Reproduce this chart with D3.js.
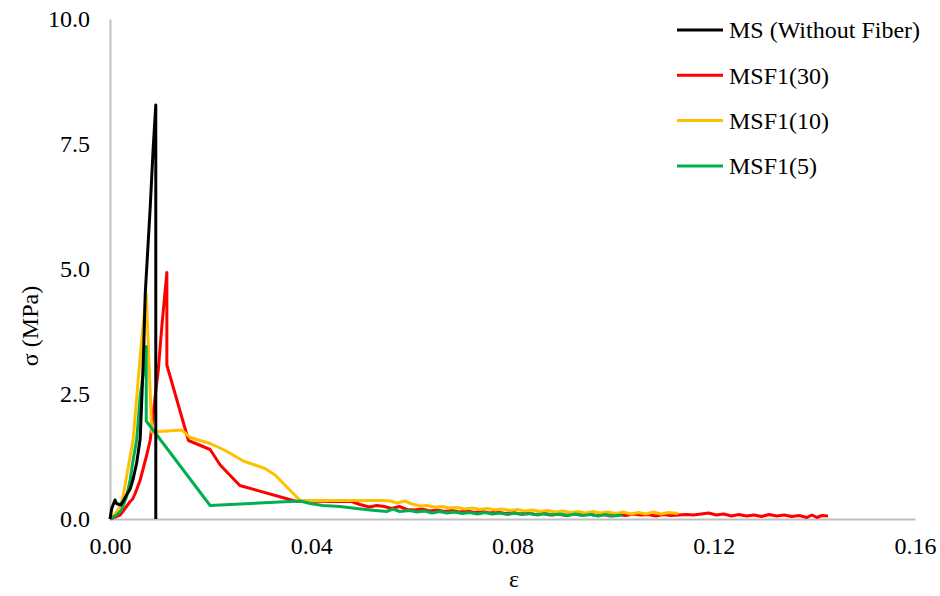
<!DOCTYPE html>
<html>
<head>
<meta charset="utf-8">
<script src="https://cdn.jsdelivr.net/npm/d3@7"></script>
<style>
  html, body { margin: 0; padding: 0; background: #fff; }
  svg { display: block; }
</style>
</head>
<body>
<svg id="chart" width="940" height="596"></svg>
<script>
// Stress–strain curves: [strain ε, stress σ (MPa)]
const msPoints = [
  [0, 0], [0.00034, 0.21], [0.0010, 0.38], [0.0013, 0.31], [0.0021, 0.28],
  [0.0026, 0.35], [0.0033, 0.48], [0.0040, 0.60], [0.0046, 0.80], [0.0053, 1.12],
  [0.0060, 1.60], [0.0064, 2.60], [0.0067, 3.40], [0.0070, 4.50], [0.0080, 6.25],
  [0.0086, 7.45], [0.0091, 8.28], [0.0091, 0]
];

const msf30Points = [
  [0, 0], [0.0020, 0.08], [0.0030, 0.21], [0.0040, 0.35], [0.0045, 0.40], [0.0050, 0.51],
  [0.0060, 0.78], [0.0066, 1.01], [0.0073, 1.28], [0.0080, 1.58], [0.0089, 2.38],
  [0.0096, 2.98], [0.0103, 3.85], [0.0113, 4.93], [0.0113, 3.08], [0.0156, 1.57],
  [0.0199, 1.39], [0.0219, 1.08], [0.0258, 0.67], [0.0371, 0.35], [0.0400, 0.36],
  [0.0440, 0.35], [0.0480, 0.35], [0.0497, 0.29], [0.0515, 0.24], [0.0530, 0.27],
  [0.0545, 0.25], [0.0560, 0.21], [0.0575, 0.25], [0.0590, 0.19], [0.0605, 0.18],
  [0.0620, 0.20], [0.0635, 0.16], [0.0650, 0.18], [0.0665, 0.15], [0.0680, 0.17],
  [0.0695, 0.14], [0.0710, 0.16], [0.0725, 0.13], [0.0740, 0.15], [0.0755, 0.12],
  [0.0770, 0.14], [0.0785, 0.11], [0.0800, 0.13], [0.0815, 0.10], [0.0830, 0.12],
  [0.0845, 0.09], [0.0860, 0.11], [0.0875, 0.08], [0.0890, 0.10], [0.0905, 0.07],
  [0.0920, 0.10], [0.0935, 0.08], [0.0950, 0.11], [0.0965, 0.07], [0.0980, 0.09],
  [0.0995, 0.06], [0.1010, 0.09], [0.1025, 0.07], [0.1040, 0.10], [0.1055, 0.08],
  [0.1070, 0.09], [0.1085, 0.06], [0.1100, 0.09], [0.1115, 0.07], [0.1130, 0.08],
  [0.1145, 0.09], [0.1160, 0.08], [0.1175, 0.10], [0.1190, 0.12], [0.1205, 0.08],
  [0.1220, 0.10], [0.1235, 0.06], [0.1250, 0.09], [0.1265, 0.06], [0.1280, 0.08],
  [0.1295, 0.05], [0.1310, 0.09], [0.1325, 0.06], [0.1340, 0.08], [0.1355, 0.05],
  [0.1370, 0.07], [0.1385, 0.03], [0.1395, 0.08], [0.1405, 0.03], [0.1415, 0.07],
  [0.1427, 0.06]
];

const msf10Points = [
  [0, 0], [0.0010, 0.10], [0.0020, 0.25], [0.0026, 0.45], [0.0033, 0.85], [0.0040, 1.25],
  [0.0046, 1.58], [0.0056, 2.78], [0.0063, 3.58], [0.0072, 4.51], [0.0083, 1.74],
  [0.0143, 1.78], [0.0159, 1.63], [0.0199, 1.51], [0.0229, 1.37], [0.0265, 1.16],
  [0.0308, 1.01], [0.0328, 0.88], [0.0378, 0.37], [0.0420, 0.37], [0.0460, 0.37],
  [0.0500, 0.37], [0.0540, 0.37], [0.0557, 0.36], [0.0570, 0.32], [0.0586, 0.36],
  [0.0600, 0.30], [0.0616, 0.26], [0.0630, 0.27], [0.0645, 0.24], [0.0660, 0.25],
  [0.0675, 0.22], [0.0690, 0.23], [0.0705, 0.20], [0.0720, 0.22], [0.0735, 0.19],
  [0.0750, 0.21], [0.0765, 0.18], [0.0780, 0.20], [0.0795, 0.17], [0.0810, 0.19],
  [0.0825, 0.16], [0.0840, 0.18], [0.0855, 0.15], [0.0870, 0.17], [0.0885, 0.14],
  [0.0900, 0.16], [0.0915, 0.13], [0.0930, 0.15], [0.0945, 0.12], [0.0960, 0.15],
  [0.0975, 0.12], [0.0990, 0.14], [0.1005, 0.11], [0.1020, 0.14], [0.1035, 0.10],
  [0.1050, 0.13], [0.1065, 0.10], [0.1080, 0.14], [0.1095, 0.10], [0.1110, 0.13],
  [0.1129, 0.11]
];

const msf5Points = [
  [0, 0], [0.0013, 0.08], [0.0023, 0.18], [0.0033, 0.45], [0.0040, 0.78], [0.0046, 1.18],
  [0.0053, 1.58], [0.0060, 2.45], [0.0068, 3.05], [0.0072, 3.45], [0.0072, 1.96],
  [0.0199, 0.27], [0.0378, 0.36], [0.0398, 0.31], [0.0423, 0.27], [0.0457, 0.25],
  [0.0490, 0.21], [0.0517, 0.18], [0.0550, 0.15], [0.0562, 0.20], [0.0576, 0.15],
  [0.0596, 0.17], [0.0610, 0.14], [0.0625, 0.16], [0.0640, 0.12], [0.0655, 0.15],
  [0.0670, 0.12], [0.0685, 0.14], [0.0700, 0.11], [0.0715, 0.13], [0.0730, 0.10],
  [0.0745, 0.13], [0.0760, 0.10], [0.0775, 0.12], [0.0790, 0.09], [0.0805, 0.12],
  [0.0820, 0.09], [0.0835, 0.11], [0.0850, 0.08], [0.0865, 0.11], [0.0880, 0.08],
  [0.0895, 0.10], [0.0910, 0.07], [0.0925, 0.10], [0.0940, 0.07], [0.0955, 0.09],
  [0.0970, 0.06], [0.0985, 0.09], [0.1000, 0.06], [0.1018, 0.08]
];

const seriesNames = ["MS (Without Fiber)", "MSF1(30)", "MSF1(10)", "MSF1(5)"];
const seriesColors = ["#000000", "#ff0000", "#ffc000", "#00b050"];
const seriesPoints = [msPoints, msf30Points, msf10Points, msf5Points];

const xTicks = [0, 0.04, 0.08, 0.12, 0.16];
const yTicks = [0, 2.5, 5, 7.5, 10];

const FONT = "'Liberation Serif', serif";
const FONT_SIZE = "24px";

const svg = d3.select("#chart");
const plot = { left: 110, right: 915, top: 19, bottom: 519 };

const x = d3.scaleLinear().domain([0, 0.16]).range([plot.left, plot.right]);
const y = d3.scaleLinear().domain([0, 10]).range([plot.bottom, plot.top]);

// Axes (no tick marks, light grey lines)
const xAxis = d3.axisBottom(x).tickValues(xTicks).tickFormat(d3.format(".2f")).tickSize(0).tickPadding(18);
const yAxis = d3.axisLeft(y).tickValues(yTicks).tickFormat(d3.format(".1f")).tickSize(0).tickPadding(20);

const gx = svg.append("g").attr("transform", `translate(0,${plot.bottom})`).call(xAxis);
const gy = svg.append("g").attr("transform", `translate(${plot.left},0)`).call(yAxis);

[gx, gy].forEach(g => {
  g.select(".domain").attr("stroke", "#bfbfbf").attr("stroke-width", 2);
  g.selectAll("text")
    .style("font-family", FONT)
    .style("font-size", FONT_SIZE)
    .attr("fill", "#000");
});

// Series lines: fiber mixes first, plain mortar on top
const line = d3.line().x(d => x(d[0])).y(d => y(d[1]));
const drawOrder = [1, 2, 3, 0];
drawOrder.forEach(i => {
  svg.append("path")
    .datum(seriesPoints[i])
    .attr("fill", "none")
    .attr("stroke", seriesColors[i])
    .attr("stroke-width", 3)
    .attr("stroke-linejoin", "round")
    .attr("d", line);
});

// Axis titles
svg.append("text")
  .attr("x", 514).attr("y", 587)
  .attr("text-anchor", "middle")
  .style("font-family", FONT)
  .style("font-size", FONT_SIZE)
  .text("ε");

svg.append("text")
  .attr("transform", "translate(38,326) rotate(-90)")
  .attr("text-anchor", "middle")
  .style("font-family", FONT)
  .style("font-size", FONT_SIZE)
  .text("σ (MPa)");

// Legend
const legend = svg.append("g");
seriesNames.forEach((name, i) => {
  const ly = 30 + i * 45.3;
  legend.append("line")
    .attr("x1", 677).attr("x2", 723)
    .attr("y1", ly).attr("y2", ly)
    .attr("stroke", seriesColors[i])
    .attr("stroke-width", 3);
  legend.append("text")
    .attr("x", 729).attr("y", ly)
    .attr("dy", "0.35em")
    .style("font-family", FONT)
    .style("font-size", FONT_SIZE)
    .text(name);
});
</script>
</body>
</html>
